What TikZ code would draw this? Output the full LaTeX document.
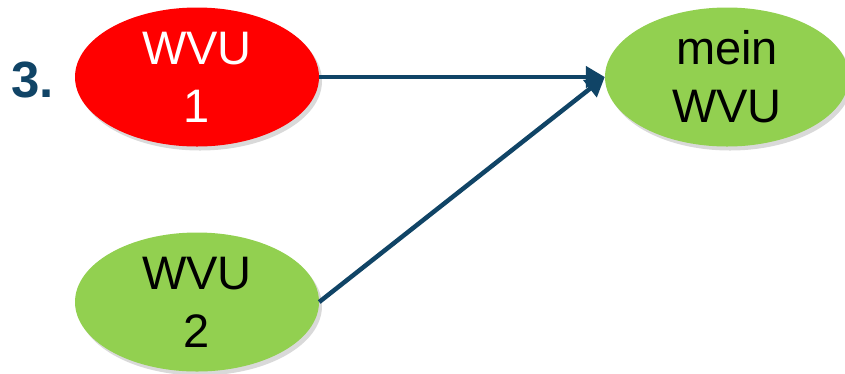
\documentclass[tikz,border=0pt]{standalone}
\usepackage{fontspec}
\setmainfont{Liberation Sans}
\usetikzlibrary{shapes.geometric,shadows,arrows.meta}
\definecolor{wvured}{RGB}{255,0,0}
\definecolor{wvugreen}{RGB}{146,208,80}
\definecolor{wvublue}{RGB}{16,68,102}
\tikzset{
  wvu/.style={ellipse, minimum width=244pt, minimum height=139pt, inner sep=0pt,
    align=center, font=\fontsize{47}{58}\selectfont,
    drop shadow={shadow xshift=3pt, shadow yshift=-4pt, fill=black, opacity=0.15}},
  conn/.style={draw=wvublue, line width=4.5pt, -{Triangle[length=19pt,width=21pt]}}
}
\begin{document}
\begin{tikzpicture}[x=1pt,y=1pt]
\useasboundingbox (0,0) rectangle (845,-373);
\clip (0,0) rectangle (845,-373);
\node[wvu, fill=wvured, text=white] (a) at (197,-77) {WVU\\1};
\node[wvu, fill=wvugreen, text=black] (b) at (197,-302) {WVU\\2};
\node[wvu, fill=wvugreen, text=black] (c) at (727,-77) {mein\\WVU};
\node[anchor=base west, inner sep=0pt, text=wvublue, font=\fontsize{51}{58}\selectfont\bfseries] (n) at (11,-97) {3.};
\draw[conn] (a.east) -- (c.west);
\draw[conn] (b.east) -- (c.west);
\end{tikzpicture}
\end{document}
